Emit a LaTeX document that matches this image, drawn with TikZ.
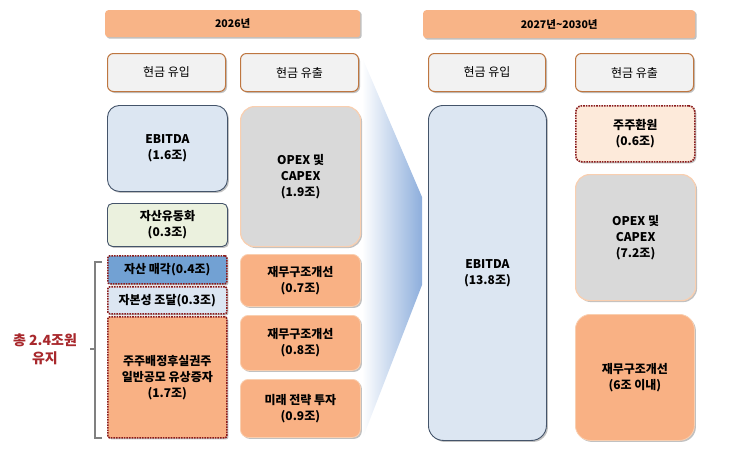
\documentclass[tikz,border=0pt]{standalone}
\usepackage{fontspec}
\setmainfont{Noto Sans CJK KR}
\usetikzlibrary{shadows}

\definecolor{hdrorange}{HTML}{F8B487}
\definecolor{headfill}{HTML}{F2F2F2}
\definecolor{headline}{HTML}{BE7640}
\definecolor{ebitblue}{HTML}{DCE6F2}
\definecolor{slateline}{HTML}{44546A}
\definecolor{liqgreen}{HTML}{EBF1DE}
\definecolor{opexgray}{HTML}{D9D9D9}
\definecolor{softorange}{HTML}{F9CFB0}
\definecolor{saleblue}{HTML}{72A1D3}
\definecolor{finorange}{HTML}{F9B184}
\definecolor{retpeach}{HTML}{FDEADA}
\definecolor{dotred}{HTML}{8B1C1C}
\definecolor{totalred}{HTML}{A8282C}
\definecolor{chevblue}{HTML}{8DAEDC}

\newcommand{\flowBox}[6]{% #1: name of node
                         % #2: style of box
                         % #3: top left corner
                         % #4: width
                         % #5: height
                         % #6: text
  \node (#1) [#2, anchor=north west, minimum width=#4pt, minimum height=#5pt, at={#3}] {#6};
}

\begin{document}
\begin{tikzpicture}[x=1pt,y=-1pt,
  shadowed/.style={drop shadow={shadow xshift=1.5pt,shadow yshift=-1.5pt,opacity=0.35,fill=black!70}},
  txt/.style={align=center,inner sep=0pt,font=\bfseries\fontsize{12}{16}\selectfont},
  hdr/.style={shadowed,fill=hdrorange,rounded corners=3pt,inner sep=0pt,font=\bfseries\fontsize{10.5}{12}\selectfont},
  head/.style={shadowed,fill=headfill,draw=headline,line width=1pt,rounded corners=6pt,inner sep=0pt,font=\fontsize{12}{14}\selectfont},
  inflow/.style={txt,shadowed,fill=ebitblue,draw=slateline,line width=0.9pt},
  opex/.style={txt,shadowed,fill=opexgray,draw=softorange,line width=1.2pt,rounded corners=14pt},
  fin/.style={txt,shadowed,fill=finorange,draw=softorange,line width=0.8pt,rounded corners=8pt},
  dotbox/.style={txt,shadowed,draw=dotred,line width=1.6pt,densely dotted,rounded corners=2pt}]

\useasboundingbox (0,0) rectangle (745,463);

% arrow between the two periods
\shade[left color=white,right color=chevblue] (362,57) -- (422,197) -- (422,285) -- (362,440) -- cycle;

% 2026
\flowBox{hdrA}{hdr}{(105,10)}{255}{27}{2026년};
\flowBox{inA}{head}{(107,53)}{118}{38}{현금 유입};
\flowBox{outA}{head}{(240,53)}{118}{38}{현금 유출};

\flowBox{ebitA}{inflow,rounded corners=12pt}{(107,105)}{120}{86}{EBITDA\\(1.6조)};
\flowBox{liqA}{inflow,fill=liqgreen,rounded corners=5pt}{(107,203)}{120}{43}{자산유동화\\(0.3조)};
\flowBox{saleA}{dotbox,fill=saleblue}{(107,255)}{119}{28}{자산 매각(0.4조)};
\flowBox{capA}{dotbox,fill=ebitblue}{(107,286)}{119}{27}{자본성 조달(0.3조)};
\flowBox{rightsA}{dotbox,fill=finorange}{(107,316)}{119}{121}{주주배정후실권주\\일반공모 유상증자\\(1.7조)};

\flowBox{opexA}{opex}{(240,106)}{120}{140}{OPEX 및\\CAPEX\\(1.9조)};
\flowBox{finA1}{fin}{(240,254)}{120}{52}{재무구조개선\\(0.7조)};
\flowBox{finA2}{fin}{(240,315)}{120}{55}{재무구조개선\\(0.8조)};
\flowBox{futA}{fin}{(240,379)}{120}{58}{미래 전략 투자\\(0.9조)};

% 2027~2030
\flowBox{hdrB}{hdr}{(423,10)}{272}{28}{2027년\textasciitilde 2030년};
\flowBox{inB}{head}{(428,53)}{117}{38}{현금 유입};
\flowBox{outB}{head}{(575,53)}{118}{38}{현금 유출};

\flowBox{ebitB}{inflow,rounded corners=15pt}{(428,105)}{118}{335}{EBITDA\\(13.8조)};
\flowBox{retB}{dotbox,fill=retpeach,rounded corners=6pt}{(575,105)}{119}{56}{주주환원\\(0.6조)};
\flowBox{opexB}{opex}{(575,174)}{120}{126}{OPEX 및\\CAPEX\\(7.2조)};
\flowBox{finB}{fin,rounded corners=15pt}{(575,314)}{119}{126}{재무구조개선\\(6조 이내)};

% bracket for the 2.4조
\coordinate (brtop) at (102,262);
\coordinate (brbot) at (102,438);
\coordinate (brmid) at (95,349);
\draw[black!50,line width=1.3pt] (brtop) -- ++(-7,0) |- (brbot);
\draw[black!50,line width=1.3pt] (brmid) -- ++(-5,0);
\node (total) [txt,text=totalred,font=\bfseries\fontsize{14}{18}\selectfont] at (45,349) {총 2.4조원\\유지};

\end{tikzpicture}
\end{document}
